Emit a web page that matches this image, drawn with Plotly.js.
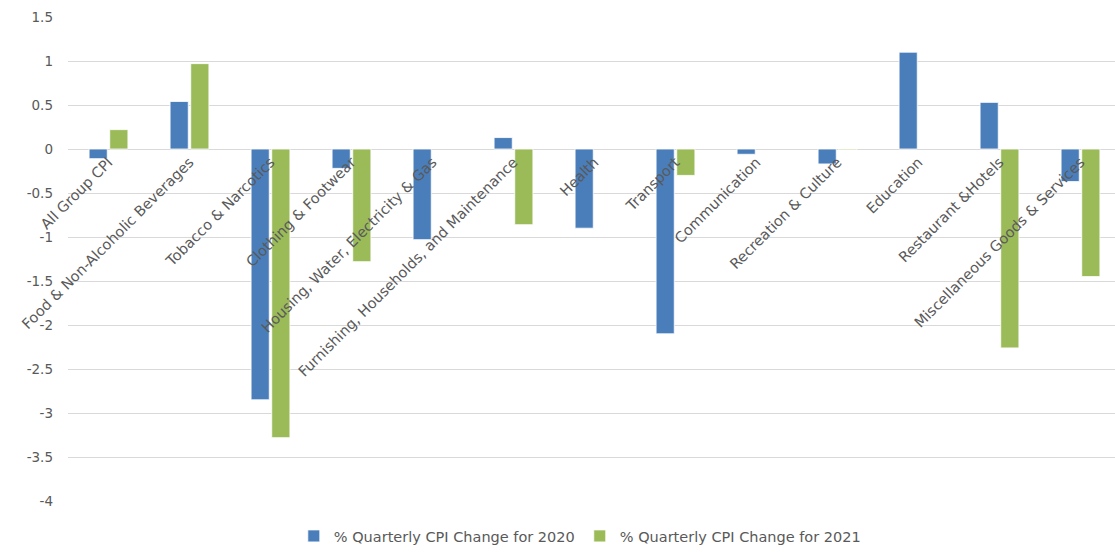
<!DOCTYPE html>
<html>
<head>
<meta charset="utf-8">
<script src="https://cdn.plot.ly/plotly-3.0.1.min.js"></script>
<style>html,body{margin:0;padding:0;background:#fff}#chart{width:1115px;height:552px}</style>
</head>
<body>
<div id="chart"></div>
<script>
const categories = [
  "All Group CPI",
  "Food & Non-Alcoholic Beverages",
  "Tobacco & Narcotics",
  "Clothing & Footwear",
  "Housing, Water, Electricity & Gas",
  "Furnishing, Households, and Maintenance",
  "Health",
  "Transport",
  "Communication",
  "Recreation & Culture",
  "Education",
  "Restaurant &Hotels",
  "Miscellaneous Goods & Services"
];
const change2020 = [-0.11, 0.54, -2.85, -0.22, -1.03, 0.13, -0.90, -2.10, -0.06, -0.17, 1.10, 0.53, -0.37];
const change2021 = [0.22, 0.97, -3.28, -1.28, null, -0.86, null, -0.30, null, -0.01, null, -2.26, -1.45];
const seriesNames = ["% Quarterly CPI Change for 2020", "% Quarterly CPI Change for 2021"];
const yTicks = [1.5, 1, 0.5, 0, -0.5, -1, -1.5, -2, -2.5, -3, -3.5, -4];

const labelFont = {family: "DejaVu Sans, Verdana, sans-serif", size: 14.5, color: "#595959"};
const tickFont = {family: "DejaVu Sans, Verdana, sans-serif", size: 13.5, color: "#595959"};

const traces = [
  {type: "bar", name: seriesNames[0], x: categories, y: change2020,
   marker: {color: "#4a7ebb", line: {color: "#ffffff", width: 0.8}}},
  {type: "bar", name: seriesNames[1], x: categories, y: change2021,
   marker: {color: "#9bbb59", line: {color: "#ffffff", width: 0.8}}}
];

const layout = {
  width: 1115, height: 552,
  margin: {l: 68, r: 0, t: 17, b: 51, pad: 0},
  paper_bgcolor: "#fff", plot_bgcolor: "#fff",
  font: labelFont,
  barmode: "group", bargap: 0.49, bargroupgap: 0.12,
  showlegend: true,
  legend: {orientation: "h", xref: "container", yref: "container", x: 0.52, y: 0.029,
           xanchor: "center", yanchor: "middle", font: labelFont, itemwidth: 30,
           traceorder: "normal"},
  xaxis: {
    type: "category", range: [-0.5, 12.426],
    anchor: "free", position: 4 / 5.5,
    tickangle: -45, ticks: "", showgrid: false, showline: false, zeroline: false,
    tickfont: labelFont, ticklabelstandoff: 1, automargin: false
  },
  yaxis: {
    range: [-4, 1.5], tickvals: yTicks, ticktext: yTicks.map(String),
    showgrid: true, gridcolor: "#d9d9d9", gridwidth: 1,
    zeroline: true, zerolinecolor: "#d9d9d9", zerolinewidth: 1,
    showline: false, ticks: "", tickfont: tickFont, ticklabelstandoff: 14, automargin: false
  }
};

Plotly.newPlot("chart", traces, layout, {displayModeBar: false, staticPlot: true});
</script>
</body>
</html>
